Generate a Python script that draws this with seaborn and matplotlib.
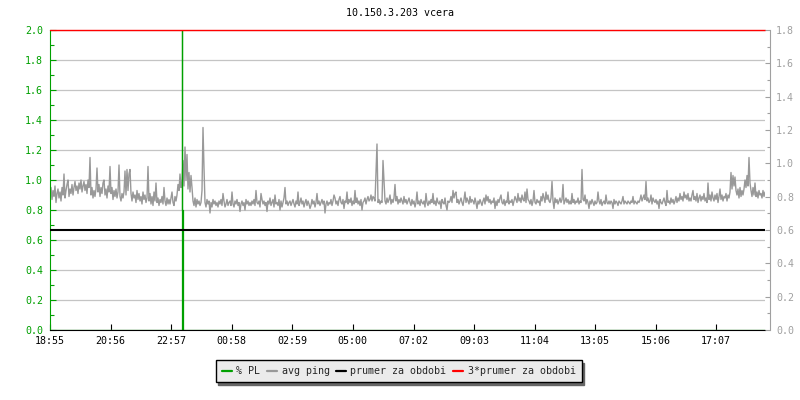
import numpy as np
import pandas as pd
import seaborn as sns
import matplotlib
matplotlib.use("Agg")
import matplotlib.pyplot as plt
from matplotlib.lines import Line2D
from matplotlib.ticker import MultipleLocator

# ---------------- data ----------------
title = "10.150.3.203 vcera"
start_label = "18:55"
step_min = 2  # minutes between ping samples

ping_rows = [
    [0.90, 0.95, 0.87, 0.93, 0.89, 0.96, 0.85, 0.91, 0.94, 0.88,
     0.92, 0.86, 0.95, 0.90, 1.04, 0.88, 0.93, 0.97, 1.00, 0.89,
     0.94, 0.91, 0.97, 0.90, 0.95, 0.99, 0.93, 0.96, 0.91, 0.98,
     0.94, 1.00, 0.92, 0.96, 0.99, 0.93, 0.97, 0.91, 1.00, 0.95],
    [1.15, 0.90, 0.95, 0.88, 0.93, 0.89, 0.94, 1.08, 0.92, 0.97,
     0.89, 0.95, 0.91, 0.98, 1.00, 0.90, 0.94, 0.88, 0.96, 0.92,
     1.09, 0.91, 0.95, 0.87, 0.93, 0.89, 0.94, 0.88, 0.92, 1.10,
     0.89, 0.86, 0.91, 0.88, 0.92, 1.06, 0.90, 1.07, 0.93, 1.04],
    [1.07, 0.91, 0.86, 0.92, 0.88, 0.90, 0.85, 0.93, 0.87, 0.91,
     0.86, 0.89, 0.84, 0.92, 0.87, 0.90, 0.85, 0.88, 1.09, 0.86,
     0.91, 0.84, 0.89, 0.83, 0.92, 0.86, 0.98, 0.85, 0.88, 0.83,
     0.87, 0.85, 0.89, 0.84, 0.95, 0.86, 0.83, 0.88, 0.84, 0.87],
    [0.84, 0.88, 0.92, 0.85, 0.83, 0.89, 0.86, 0.90, 0.97, 0.93,
     1.04, 0.95, 0.98, 1.13, 0.96, 1.22, 1.00, 1.17, 0.94, 1.05,
     0.92, 1.03, 0.95, 0.86, 0.83, 0.88, 0.82, 0.87, 0.84, 0.86,
     0.83, 0.85, 0.93, 1.35, 1.08, 0.85, 0.82, 0.87, 0.84, 0.86],
    [0.78, 0.85, 0.82, 0.87, 0.84, 0.86, 0.83, 0.85, 0.82, 0.86,
     0.84, 0.87, 0.83, 0.91, 0.86, 0.82, 0.84, 0.87, 0.83, 0.85,
     0.86, 0.83, 0.92, 0.84, 0.82, 0.86, 0.84, 0.87, 0.83, 0.85,
     0.79, 0.84, 0.86, 0.83, 0.85, 0.80, 0.87, 0.84, 0.86, 0.83],
    [0.85, 0.83, 0.86, 0.84, 0.87, 0.83, 0.93, 0.85, 0.84, 0.86,
     0.82, 0.91, 0.87, 0.84, 0.86, 0.83, 0.85, 0.79, 0.86, 0.84,
     0.88, 0.83, 0.85, 0.87, 0.82, 0.90, 0.84, 0.85, 0.83, 0.87,
     0.80, 0.86, 0.82, 0.85, 0.88, 0.95, 0.84, 0.86, 0.83, 0.85],
    [0.86, 0.83, 0.85, 0.87, 0.84, 0.82, 0.86, 0.84, 0.92, 0.83,
     0.85, 0.88, 0.84, 0.86, 0.82, 0.85, 0.87, 0.83, 0.86, 0.84,
     0.81, 0.83, 0.87, 0.84, 0.86, 0.82, 0.85, 0.91, 0.84, 0.86,
     0.83, 0.85, 0.87, 0.84, 0.86, 0.78, 0.84, 0.86, 0.83, 0.85],
    [0.84, 0.87, 0.83, 0.86, 0.90, 0.88, 0.84, 0.86, 0.83, 0.87,
     0.89, 0.85, 0.84, 0.87, 0.81, 0.86, 0.85, 0.92, 0.84, 0.87,
     0.85, 0.88, 0.83, 0.86, 0.84, 0.93, 0.85, 0.88, 0.84, 0.86,
     0.83, 0.87, 0.80, 0.85, 0.86, 0.88, 0.84, 0.87, 0.89, 0.86],
    [0.87, 0.90, 0.86, 0.89, 0.88, 0.86, 1.06, 1.24, 0.85, 0.87,
     0.84, 0.86, 0.85, 1.13, 0.99, 0.86, 0.84, 0.88, 0.85, 0.87,
     0.90, 0.84, 0.87, 0.85, 0.88, 0.97, 0.86, 0.89, 0.84, 0.87,
     0.85, 0.88, 0.86, 0.84, 0.89, 0.85, 0.87, 0.84, 0.86, 0.88],
    [0.85, 0.83, 0.87, 0.84, 0.86, 0.82, 0.85, 0.92, 0.84, 0.86,
     0.83, 0.87, 0.85, 0.84, 0.86, 0.82, 0.91, 0.85, 0.83, 0.86,
     0.84, 0.87, 0.85, 0.91, 0.84, 0.86, 0.83, 0.88, 0.85, 0.84,
     0.86, 0.81, 0.87, 0.85, 0.84, 0.88, 0.83, 0.80, 0.86, 0.85],
    [0.86, 0.89, 0.85, 0.93, 0.88, 0.91, 0.92, 0.85, 0.87, 0.84,
     0.86, 0.88, 0.85, 0.83, 0.87, 0.92, 0.85, 0.88, 0.86, 0.84,
     0.89, 0.85, 0.87, 0.86, 0.84, 0.88, 0.85, 0.81, 0.86, 0.84,
     0.87, 0.85, 0.83, 0.86, 0.88, 0.84, 0.90, 0.86, 0.89, 0.85],
    [0.87, 0.84, 0.86, 0.85, 0.88, 0.81, 0.86, 0.83, 0.87, 0.85,
     0.88, 0.90, 0.85, 0.84, 0.87, 0.83, 0.86, 0.85, 0.92, 0.84,
     0.86, 0.85, 0.87, 0.83, 0.86, 0.89, 0.87, 0.85, 0.91, 0.86,
     0.88, 0.85, 0.90, 0.87, 0.86, 0.92, 0.85, 0.94, 0.87, 0.86],
    [0.84, 0.87, 0.83, 0.86, 0.93, 0.85, 0.84, 0.87, 0.85, 0.86,
     0.83, 0.89, 0.86, 0.91, 0.88, 0.85, 0.92, 0.87, 0.90, 0.86,
     0.85, 0.88, 0.99, 0.86, 0.81, 0.88, 0.85, 0.87, 0.84, 0.86,
     0.88, 0.85, 0.87, 0.97, 0.84, 0.86, 0.88, 0.85, 0.87, 0.84],
    [0.86, 0.84, 0.91, 0.85, 0.87, 0.84, 0.86, 0.85, 0.88, 0.84,
     0.86, 0.85, 1.07, 0.87, 0.86, 0.90, 0.84, 0.87, 0.85, 0.81,
     0.86, 0.84, 0.87, 0.85, 0.83, 0.86, 0.84, 0.85, 0.92, 0.86,
     0.84, 0.87, 0.83, 0.85, 0.86, 0.84, 0.90, 0.85, 0.84, 0.86],
    [0.84, 0.86, 0.85, 0.81, 0.87, 0.84, 0.86, 0.85, 0.83, 0.86,
     0.85, 0.84, 0.86, 0.89, 0.84, 0.86, 0.85, 0.84, 0.86, 0.85,
     0.84, 0.86, 0.85, 0.89, 0.84, 0.86, 0.85, 0.84, 0.86, 0.85,
     0.87, 0.90, 0.86, 0.88, 0.90, 0.87, 0.99, 0.86, 0.88, 0.85],
    [0.86, 0.90, 0.84, 0.88, 0.86, 0.85, 0.87, 0.84, 0.86, 0.81,
     0.87, 0.85, 0.84, 0.86, 0.88, 0.85, 0.83, 0.93, 0.85, 0.86,
     0.84, 0.88, 0.85, 0.87, 0.84, 0.86, 0.89, 0.85, 0.88, 0.86,
     0.91, 0.87, 0.89, 0.86, 0.92, 0.88, 0.90, 0.87, 0.91, 0.86],
    [0.88, 0.86, 0.90, 0.93, 0.87, 0.89, 0.86, 0.91, 0.85, 0.88,
     0.90, 0.86, 0.89, 0.87, 0.91, 0.86, 0.88, 0.85, 0.98, 0.87,
     0.90, 0.86, 0.92, 0.88, 0.86, 0.90, 0.87, 0.91, 0.85, 0.89,
     0.94, 0.87, 0.90, 0.86, 0.89, 0.88, 0.91, 0.86, 0.90, 0.88],
    [0.92, 1.05, 0.94, 1.03, 0.96, 1.02, 0.93, 0.90, 0.94, 0.88,
     0.95, 0.89, 0.93, 0.90, 0.94, 1.00, 0.95, 1.03, 0.96, 1.15,
     0.98, 0.93, 0.89, 0.95, 0.90, 0.98, 0.89, 0.92, 0.88, 0.93,
     0.90, 0.91, 0.88, 0.93, 0.89, 0.92],
]
ping = [v for row in ping_rows for v in row]

# packet-loss event (minutes after start, % PL); peak runs off the top of the chart
pl_minutes = [0, 263, 264, 265, 1430]
pl_values = [0.0, 2.5, 0.8, 0.0, 0.0]

mean_value = 0.667          # "prumer za obdobi"
triple_mean = 3 * mean_value  # "3*prumer za obdobi"

tick_labels = ["18:55", "20:56", "22:57", "00:58", "02:59", "05:00",
               "07:02", "09:03", "11:04", "13:05", "15:06", "17:07"]
right_ticks = [0.0, 0.2, 0.4, 0.6, 0.8, 1.0, 1.2, 1.4, 1.6, 1.8]

legend_labels = ["% PL", "avg ping", "prumer za obdobi", "3*prumer za obdobi"]

# ---------------- styling ----------------
GREEN = "#00a000"
GREY = "#999999"
RIGHT_GREY = "#a0a0a0"
GRID = "#c4c4c4"
FS = 7.2

sns.set_theme(style="ticks")
plt.rcParams["font.family"] = ["DejaVu Sans Mono"]


def to_minutes(s):
    h, m = map(int, s.split(":"))
    h0, m0 = map(int, start_label.split(":"))
    return ((h * 60 + m) - (h0 * 60 + m0)) % 1440


df = pd.DataFrame({"minute": np.arange(len(ping)) * step_min, "ping": ping})
pl_df = pd.DataFrame({"minute": pl_minutes, "pl": pl_values})

fig = plt.figure(figsize=(8, 4), dpi=100)
ax = fig.add_axes([50 / 800, 70 / 400, 715 / 800, 300 / 400])

ax.yaxis.grid(True, color=GRID, linewidth=0.9)
ax.set_axisbelow(True)

sns.lineplot(data=df, x="minute", y="ping", ax=ax, color=GREY, linewidth=1.0,
             estimator=None, legend=False)
sns.lineplot(data=pl_df, x="minute", y="pl", ax=ax, color=GREEN, linewidth=0.9,
             estimator=None, sort=False, drawstyle="steps-post", legend=False)
ax.axhline(mean_value, color="black", linewidth=1.5, zorder=3)
ax.axhline(triple_mean, color="#ff0000", linewidth=1.0, clip_on=False, zorder=3)

ax.set_xlim(0, 1430)
ax.set_ylim(0, 2.0)
ax.set_xlabel("")
ax.set_ylabel("")

ax.set_xticks([to_minutes(t) for t in tick_labels])
ax.set_xticklabels(tick_labels)
ax.set_yticks(np.arange(0, 2.01, 0.2))
ax.set_yticklabels([f"{v:.1f}" for v in np.arange(0, 2.01, 0.2)])
ax.yaxis.set_minor_locator(MultipleLocator(0.1))

for s in ("top", "right"):
    ax.spines[s].set_visible(False)
ax.spines["left"].set_color(GREEN)
ax.spines["bottom"].set_color("black")
ax.spines["left"].set_linewidth(0.8)
ax.spines["bottom"].set_linewidth(0.8)

ax.tick_params(axis="x", which="major", direction="in", length=4.3, width=0.8,
               color="black", labelcolor="black", labelsize=FS, pad=4)
ax.tick_params(axis="y", which="major", direction="in", length=4.3, width=0.8,
               color=GREEN, labelcolor=GREEN, labelsize=FS, pad=5)
ax.tick_params(axis="y", which="minor", direction="in", length=2.9, width=0.8,
               color=GREEN, left=True)

ax2 = ax.twinx()
ax2.set_ylim(0, 1.8)
ax2.set_yticks(right_ticks)
ax2.set_yticklabels([f"{v:.1f}" for v in right_ticks])
ax2.yaxis.set_minor_locator(MultipleLocator(0.1))
for s in ("top", "left", "bottom"):
    ax2.spines[s].set_visible(False)
ax2.spines["right"].set_position(("outward", 3.6))
ax2.spines["right"].set_color(RIGHT_GREY)
ax2.spines["right"].set_linewidth(0.8)
ax2.tick_params(axis="y", which="major", direction="in", length=3.6, width=0.8,
                color=RIGHT_GREY, labelcolor=RIGHT_GREY, labelsize=FS, pad=4.3)
ax2.tick_params(axis="y", which="minor", direction="in", length=2.2, width=0.8,
                color=RIGHT_GREY, right=True)

fig.text(0.5, 1 - 13 / 400, title, ha="center", va="center", fontsize=FS,
         color="black")

handles = [Line2D([], [], color=c, linewidth=1.6)
           for c in (GREEN, GREY, "black", "#ff0000")]
leg = fig.legend(handles, legend_labels, loc="center",
                 bbox_to_anchor=(398.5 / 800, 1 - 371 / 400), ncol=4,
                 frameon=True, fancybox=False,
                 shadow={"facecolor": "#666666", "edgecolor": "#666666", "alpha": 1},
                 edgecolor="black", facecolor="#ebebeb", framealpha=1,
                 handlelength=1.0, handletextpad=0.5, columnspacing=0.6,
                 borderpad=0.6, fontsize=FS)
leg.get_frame().set_linewidth(1.0)

fig.savefig("out.png", dpi=100)
